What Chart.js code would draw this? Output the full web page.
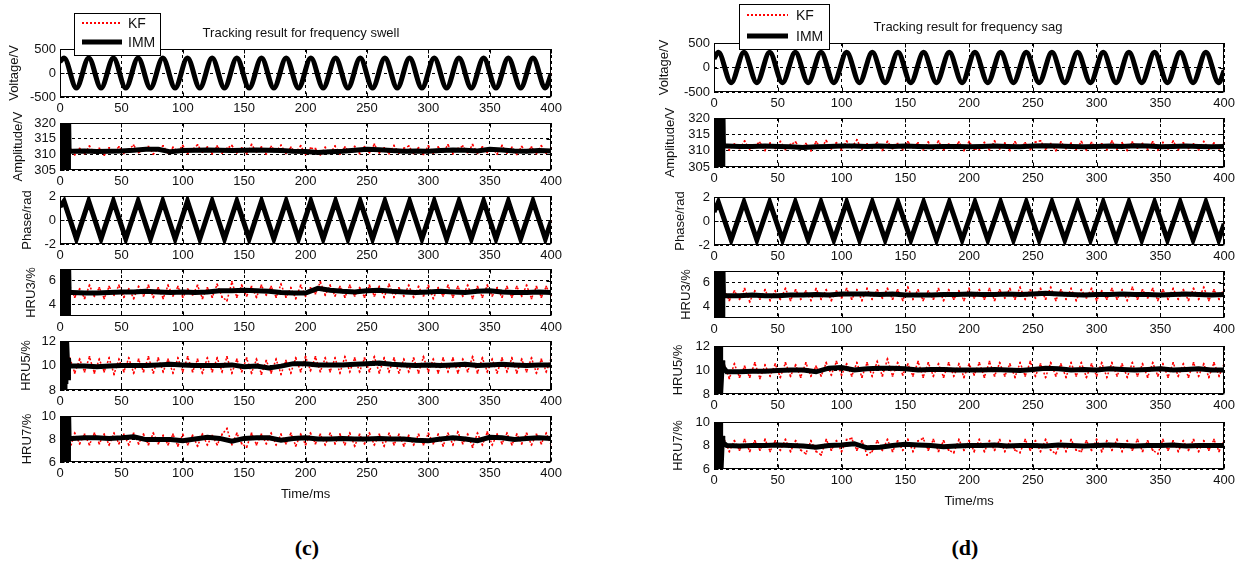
<!DOCTYPE html>
<html>
<head>
<meta charset="utf-8">
<title>Tracking results</title>
<script src="https://cdn.jsdelivr.net/npm/chart.js@4.4.0/dist/chart.umd.min.js"></script>
<style>
  body { margin: 0; background: #fff; }
  #fig { position: relative; width: 1245px; height: 568px; overflow: hidden; background: #fff; }
  #fig canvas { position: absolute; }
  .tag { position: absolute; width: 60px; text-align: center; font: bold 22px 'Liberation Serif', 'Times New Roman', serif; color: #000; }
</style>
</head>
<body>
<div id="fig">
  <div class="tag" style="left:277px; top:535px">(c)</div>
  <div class="tag" style="left:935px; top:535px">(d)</div>
</div>
<script>
// ---- time stamps (ms) ----
const kfTime = [];
for (let t = 8; t <= 400; t += 4) kfTime.push(t);
const immTime = [];
for (let t = 10; t <= 400; t += 10) immTime.push(t);
// start-up transient of the IMM estimate
const startTime = [0, 0.4, 0.8, 1.2, 1.6, 2.0, 2.4, 2.8, 3.2, 3.6, 4.0, 4.4, 4.8, 5.2, 6.6, 6.9, 7.4];
const xTicks = [0, 50, 100, 150, 200, 250, 300, 350, 400];

// ---- frequency swell ----
// turning points (peaks / troughs) of voltage and phase
const swellTurnT = [0, 3.3, 13.35, 23.4, 33.45, 43.5, 53.55, 63.6, 73.65, 83.7, 93.75,
  103.8, 113.85, 123.9, 133.95, 144.0, 154.05, 164.1, 174.15, 184.2, 194.25,
  204.3, 214.35, 224.4, 234.45, 244.5, 254.55, 264.6, 274.65, 284.7, 294.75,
  304.8, 314.85, 324.9, 334.95, 345.0, 355.05, 365.1, 375.15, 385.2, 395.25, 400];
const swellVolt = [235,
  311, -311, 311, -311, 311, -311, 311, -311, 311, -311,
  311, -311, 311, -311, 311, -311, 311, -311, 311, -311,
  311, -311, 311, -311, 311, -311, 311, -311, 311, -311,
  311, -311, 311, -311, 311, -311, 311, -311, 311, -311, -20];
const swellPhase = [1.1,
  1.57, -1.57, 1.57, -1.57, 1.57, -1.57, 1.57, -1.57, 1.57, -1.57,
  1.57, -1.57, 1.57, -1.57, 1.57, -1.57, 1.57, -1.57, 1.57, -1.57,
  1.57, -1.57, 1.57, -1.57, 1.57, -1.57, 1.57, -1.57, 1.57, -1.57,
  1.57, -1.57, 1.57, -1.57, 1.57, -1.57, 1.57, -1.57, 1.57, -1.57, -0.1];

const swellAmpStart = [325, 300, 325, 300, 325, 300, 325, 300, 325, 300, 325, 300, 325, 300, 300, 325, 311];
const swellAmpImm = [311.0, 311.1, 310.9, 311.0, 311.1, 311.3, 311.6, 311.6, 310.8, 311.2,
  311.3, 311.4, 311.3, 311.2, 311.3, 311.4, 311.3, 311.2, 311.0, 310.9,
  310.6, 310.8, 311.0, 311.3, 311.6, 311.5, 311.2, 311.0, 311.1, 311.0,
  311.2, 311.4, 311.3, 311.1, 311.6, 311.4, 311.1, 311.0, 311.2, 311.1];
const swellAmpKf = [312.3, 309.9, 311.8, 310.2, 312.6, 310.5, 311.9, 309.7, 312.1, 310.8,
  312.4, 310.3, 311.7, 312.9, 310.6, 311.4, 312.5, 310.1, 311.9, 312.7,
  310.4, 312.2, 310.9, 312.8, 310.3, 311.6, 313.0, 310.7, 312.3, 310.2,
  312.6, 310.4, 311.9, 312.8, 310.5, 312.1, 310.2, 313.1, 310.8, 312.3,
  310.1, 312.5, 311.0, 312.9, 310.3, 312.2, 310.6, 312.7, 310.0, 312.0,
  311.8, 309.9, 312.2, 310.4, 312.6, 310.1, 312.3, 310.7, 312.5, 310.3,
  312.4, 310.6, 313.2, 310.5, 312.1, 310.2, 312.8, 310.4, 311.9, 312.6,
  310.3, 312.1, 310.0, 312.7, 310.4, 312.3, 310.8, 313.0, 310.2, 311.8,
  312.6, 310.5, 313.1, 310.3, 312.4, 310.6, 312.0, 310.1, 312.8, 310.4,
  312.2, 310.0, 312.5, 310.6, 312.3, 310.2, 312.7, 310.4, 312.1];

const swellH3Start = [8, 2, 8, 2, 8, 2, 8, 2, 8, 2, 8, 2, 8, 2, 2, 8, 5.0];
const swellH3Imm = [5.0, 4.95, 4.95, 5.0, 5.05, 5.05, 5.1, 5.05, 5.0, 5.05,
  5.0, 5.05, 5.15, 5.15, 5.2, 5.15, 5.1, 5.0, 4.95, 4.95,
  5.35, 5.2, 5.1, 5.05, 5.15, 5.2, 5.1, 5.05, 5.0, 5.05,
  5.1, 5.05, 5.0, 5.1, 5.15, 5.05, 5.0, 5.0, 5.05, 5.0];
const swellH3Kf = [5.5, 4.6, 5.3, 4.5, 5.6, 4.7, 5.4, 4.5, 5.5, 4.8,
  5.6, 4.6, 5.3, 4.5, 5.5, 4.7, 5.6, 4.6, 5.4, 4.5,
  5.6, 4.7, 5.5, 4.6, 5.3, 4.8, 5.6, 4.5, 5.4, 4.6,
  5.7, 4.6, 4.3, 5.9, 4.6, 5.6, 4.7, 5.5, 4.6, 5.6,
  4.8, 5.5, 4.6, 5.7, 4.6, 5.4, 4.5, 5.6, 4.7, 5.4,
  4.9, 5.9, 4.8, 5.6, 4.7, 5.5, 4.6, 5.6, 4.7, 5.4,
  4.6, 5.6, 4.7, 5.5, 4.6, 5.7, 4.6, 5.4, 4.7, 5.6,
  4.6, 5.5, 4.7, 5.6, 4.5, 5.4, 4.7, 5.6, 4.6, 5.5,
  4.7, 5.6, 4.5, 5.5, 4.6, 5.6, 4.7, 5.4, 4.6, 5.5,
  4.6, 5.5, 4.7, 5.6, 4.5, 5.5, 4.6, 5.5, 4.7];

const swellH5Start = [9.2, 12.5, 7.5, 12.5, 7.5, 12.5, 7.5, 12.5, 7.5, 12.5, 7.5, 12.5, 8.5, 12.5, 9.0, 10.6, 10.0];
const swellH5Imm = [9.95, 9.95, 9.9, 9.95, 10.0, 10.0, 10.0, 10.05, 10.1, 10.05,
  10.0, 10.0, 10.0, 10.05, 9.9, 9.95, 9.8, 9.95, 10.15, 10.15,
  10.05, 10.05, 10.05, 10.1, 10.15, 10.2, 10.1, 10.05, 10.0, 10.05,
  10.0, 10.05, 10.1, 10.0, 10.05, 10.1, 10.05, 10.0, 10.05, 10.05];
const swellH5Kf = [10.6, 9.4, 10.5, 9.5, 10.7, 9.4, 10.5, 9.5, 10.6, 9.3,
  10.5, 9.5, 10.6, 9.4, 10.5, 9.5, 10.7, 9.4, 10.6, 9.5,
  10.5, 9.4, 10.6, 9.5, 10.7, 9.5, 10.5, 9.4, 10.6, 9.5,
  10.6, 9.5, 10.7, 9.4, 10.5, 9.5, 10.6, 9.4, 10.5, 9.3,
  10.4, 9.4, 10.5, 9.3, 10.4, 9.4, 10.6, 9.5, 10.7, 9.6,
  10.7, 9.5, 10.6, 9.5, 10.6, 9.4, 10.7, 9.5, 10.6, 9.5,
  10.6, 9.5, 10.7, 9.4, 10.6, 9.5, 10.6, 9.4, 10.5, 9.5,
  10.6, 9.4, 10.7, 9.5, 10.5, 9.4, 10.6, 9.5, 10.6, 9.4,
  10.5, 9.5, 10.7, 9.4, 10.6, 9.5, 10.5, 9.4, 10.6, 9.5,
  10.6, 9.4, 10.5, 9.5, 10.6, 9.4, 10.5, 9.5, 10.6];

const swellH7Start = [11, 5, 11, 5, 11, 5, 11, 5, 11, 5, 11, 5, 11, 5, 5, 11, 8.0];
const swellH7Imm = [8.05, 8.1, 8.1, 8.05, 8.1, 8.2, 7.95, 7.95, 7.95, 7.85,
  8.0, 8.15, 8.05, 7.8, 8.05, 8.1, 8.1, 7.9, 8.05, 8.1,
  8.0, 8.0, 8.05, 8.0, 8.0, 8.05, 8.0, 8.0, 7.9, 7.85,
  8.0, 8.1, 8.0, 7.85, 8.15, 8.1, 7.95, 8.05, 8.1, 8.05];
const swellH7Kf = [7.1, 8.5, 7.6, 8.4, 7.5, 8.5, 7.6, 8.4, 7.5, 8.5,
  7.6, 8.4, 7.5, 8.5, 7.6, 8.4, 7.5, 8.5, 7.6, 8.3,
  7.5, 8.4, 7.4, 8.4, 7.5, 8.3, 7.4, 8.4, 7.5, 8.3,
  7.5, 8.4, 8.9, 7.5, 8.5, 7.6, 7.3, 8.5, 7.5, 8.4,
  7.6, 8.5, 7.5, 8.4, 7.6, 8.5, 7.4, 8.4, 7.5, 8.5,
  7.6, 8.4, 7.5, 8.5, 7.6, 8.4, 7.5, 8.5, 7.4, 8.4,
  7.6, 8.5, 7.5, 8.4, 7.4, 8.5, 7.5, 8.4, 7.4, 8.3,
  7.5, 8.4, 7.5, 8.5, 7.6, 8.4, 7.4, 8.5, 7.5, 8.6,
  7.6, 8.4, 7.3, 8.5, 7.5, 8.6, 7.5, 8.4, 7.6, 8.5,
  7.5, 8.4, 7.6, 8.5, 7.5, 8.4, 7.6, 8.5, 7.5];

// ---- frequency sag ----
const sagTurnT = [0, 3.4, 13.46, 23.52, 33.58, 43.64, 53.7, 63.76, 73.82, 83.88, 93.94,
  104.0, 114.06, 124.12, 134.18, 144.24, 154.3, 164.36, 174.42, 184.48, 194.54,
  204.6, 214.66, 224.72, 234.78, 244.84, 254.9, 264.96, 275.02, 285.08, 295.14,
  305.2, 315.26, 325.32, 335.38, 345.44, 355.5, 365.56, 375.62, 385.68, 395.74, 400];
const sagVolt = [180,
  311, -311, 311, -311, 311, -311, 311, -311, 311, -311,
  311, -311, 311, -311, 311, -311, 311, -311, 311, -311,
  311, -311, 311, -311, 311, -311, 311, -311, 311, -311,
  311, -311, 311, -311, 311, -311, 311, -311, 311, -311, -60];
const sagPhase = [0.75,
  1.57, -1.57, 1.57, -1.57, 1.57, -1.57, 1.57, -1.57, 1.57, -1.57,
  1.57, -1.57, 1.57, -1.57, 1.57, -1.57, 1.57, -1.57, 1.57, -1.57,
  1.57, -1.57, 1.57, -1.57, 1.57, -1.57, 1.57, -1.57, 1.57, -1.57,
  1.57, -1.57, 1.57, -1.57, 1.57, -1.57, 1.57, -1.57, 1.57, -1.57, -0.24];

const sagAmpStart = [325, 300, 325, 300, 325, 300, 325, 300, 325, 300, 325, 300, 325, 300, 300, 325, 311.4];
const sagAmpImm = [311.4, 311.3, 311.3, 311.4, 311.3, 311.2, 311.0, 311.2, 311.3, 311.4,
  311.4, 311.3, 311.4, 311.3, 311.4, 311.3, 311.2, 311.3, 311.3, 311.2,
  311.3, 311.4, 311.3, 311.2, 311.4, 311.5, 311.4, 311.3, 311.2, 311.3,
  311.4, 311.3, 311.5, 311.4, 311.2, 311.3, 311.4, 311.3, 311.2, 311.3];
const sagAmpKf = [312.6, 310.2, 312.0, 310.6, 312.9, 310.4, 311.8, 312.5, 310.1, 312.3,
  310.7, 312.8, 310.3, 311.9, 312.6, 310.5, 312.2, 310.0, 312.7, 310.8,
  313.1, 310.6, 312.4, 310.2, 312.9, 311.0, 313.3, 310.4, 312.1, 310.7,
  312.5, 310.1, 312.8, 310.6, 312.2, 310.3, 312.7, 310.9, 312.4, 310.2,
  312.6, 310.5, 312.9, 310.3, 312.0, 310.7, 312.6, 310.1, 312.8, 310.5,
  310.4, 312.5, 310.2, 312.9, 310.6, 312.3, 310.1, 312.7, 310.8, 312.4,
  310.3, 312.6, 313.0, 310.5, 312.2, 310.0, 312.7, 310.6, 312.3, 310.4,
  312.8, 310.2, 312.5, 310.7, 312.1, 310.3, 312.9, 310.5, 312.4, 310.1,
  312.6, 310.8, 312.2, 310.4, 312.7, 310.2, 312.5, 310.6, 312.9, 310.3,
  312.4, 310.7, 312.1, 310.2, 312.8, 310.5, 312.3, 310.6, 312.5];

const sagH3Start = [8, 2, 8, 2, 8, 2, 8, 2, 8, 2, 8, 2, 8, 2, 2, 8, 4.95];
const sagH3Imm = [4.9, 4.9, 4.95, 4.9, 4.9, 4.95, 4.95, 5.0, 4.95, 5.05,
  5.05, 5.05, 5.0, 5.05, 4.95, 4.95, 4.95, 5.0, 5.0, 5.05,
  5.0, 5.0, 5.05, 5.0, 5.05, 5.1, 5.05, 5.0, 4.95, 5.0,
  5.0, 5.05, 5.0, 5.0, 4.95, 5.0, 5.05, 5.0, 4.95, 5.0];
const sagH3Kf = [5.4, 4.5, 5.3, 4.6, 5.5, 4.4, 5.3, 4.6, 5.4, 4.5,
  5.3, 4.6, 5.5, 4.5, 5.4, 4.6, 5.3, 4.5, 5.5, 4.6,
  5.4, 4.5, 5.3, 4.7, 5.5, 4.6, 5.4, 4.5, 5.5, 4.6,
  5.4, 4.7, 5.5, 4.6, 5.4, 4.5, 5.6, 4.6, 5.4, 4.5,
  5.3, 4.6, 5.5, 4.5, 5.4, 4.6, 5.3, 4.5, 5.5, 4.7,
  5.4, 4.6, 5.5, 4.5, 5.4, 4.7, 5.5, 4.6, 5.6, 4.6,
  5.4, 4.7, 5.5, 4.6, 5.6, 4.5, 5.4, 4.6, 5.5, 4.5,
  5.4, 4.7, 5.5, 4.5, 5.3, 4.6, 5.5, 4.6, 5.4, 4.5,
  5.6, 4.6, 5.4, 4.7, 5.5, 4.5, 5.4, 4.6, 5.5, 4.6,
  5.4, 4.5, 5.5, 4.6, 5.6, 4.5, 5.4, 4.6, 5.5];

const sagH5Start = [12.5, 7.5, 12.5, 7.5, 12.5, 7.5, 12.5, 7.5, 12.5, 7.5, 12.5, 7.5, 12.5, 8.0, 10.8, 10.5, 10.2];
const sagH5Imm = [9.85, 9.85, 9.9, 9.9, 9.95, 10.0, 10.0, 9.85, 10.15, 10.2,
  10.0, 10.1, 10.15, 10.15, 10.1, 10.0, 10.05, 10.05, 10.0, 10.0,
  10.0, 10.05, 10.0, 9.95, 10.05, 10.15, 10.1, 10.0, 10.05, 10.0,
  10.1, 10.05, 10.0, 10.05, 10.1, 10.0, 10.05, 10.1, 10.0, 10.0];
const sagH5Kf = [10.4, 9.3, 10.5, 9.4, 10.3, 9.4, 10.6, 9.3, 10.4, 9.5,
  10.5, 9.4, 10.6, 9.5, 10.4, 9.4, 10.6, 9.5, 10.3, 9.5,
  10.6, 9.6, 10.7, 9.6, 10.5, 9.5, 10.6, 9.4, 10.6, 9.5,
  10.7, 9.5, 10.9, 9.5, 10.6, 9.6, 10.5, 9.5, 10.7, 9.4,
  10.6, 9.5, 10.5, 9.4, 10.6, 9.5, 10.5, 9.4, 10.5, 9.6,
  10.6, 9.4, 10.7, 9.5, 10.6, 9.5, 10.5, 9.4, 10.6, 9.5,
  10.7, 9.5, 10.5, 9.4, 10.6, 9.5, 10.5, 9.4, 10.6, 9.5,
  10.6, 9.4, 10.5, 9.5, 10.6, 9.4, 10.6, 9.5, 10.5, 9.4,
  10.6, 9.5, 10.5, 9.4, 10.6, 9.5, 10.5, 9.4, 10.6, 9.5,
  10.5, 9.4, 10.6, 9.5, 10.5, 9.4, 10.6, 9.5, 10.5];

const sagH7Start = [11, 5, 11, 5, 11, 5, 11, 5, 11, 5, 11, 5, 11, 5, 8.8, 8.5, 8.2];
const sagH7Imm = [8.0, 7.95, 8.0, 8.0, 8.05, 8.0, 7.95, 7.85, 8.0, 8.05,
  8.15, 7.8, 7.85, 8.0, 8.1, 8.05, 8.0, 7.9, 7.95, 8.0,
  8.0, 8.05, 7.95, 8.0, 8.0, 7.95, 8.05, 8.0, 7.95, 8.0,
  8.05, 8.0, 7.95, 8.0, 8.0, 8.05, 7.95, 8.0, 8.0, 8.0];
const sagH7Kf = [8.5, 7.5, 8.4, 7.6, 8.5, 7.5, 8.4, 7.6, 8.5, 7.5,
  8.4, 7.6, 8.5, 7.5, 8.4, 7.6, 7.3, 8.4, 7.5, 7.2,
  8.5, 7.6, 8.4, 7.5, 8.5, 8.6, 7.6, 8.4, 7.2, 7.5,
  8.4, 7.6, 8.5, 7.5, 8.4, 7.6, 8.5, 7.5, 8.4, 8.6,
  7.6, 8.5, 7.5, 8.4, 7.6, 7.4, 8.5, 7.6, 8.4, 7.5,
  8.5, 7.5, 8.4, 7.6, 8.5, 7.5, 8.4, 7.6, 7.4, 8.5,
  7.6, 8.4, 7.5, 8.5, 7.6, 7.3, 8.4, 7.5, 8.5, 7.6,
  7.5, 8.4, 7.6, 8.5, 7.5, 8.4, 7.6, 8.5, 7.5, 8.4,
  7.6, 8.5, 7.5, 8.4, 7.6, 7.3, 8.5, 7.6, 8.4, 7.5,
  8.4, 7.6, 8.5, 7.5, 8.4, 7.6, 8.5, 7.5, 8.4];

// ---- axes of each row ----
const rows = [
  { name: 'Voltage/V', min: -500, max: 500, ticks: [-500, 0, 500] },
  { name: 'Amplitude/V', min: 305, max: 320, ticks: [305, 310, 315, 320] },
  { name: 'Phase/rad', min: -2, max: 2, ticks: [-2, 0, 2] },
  { name: 'HRU3/%', min: 3, max: 7, ticks: [4, 6] },
  { name: 'HRU5/%', min: 8, max: 12, ticks: [8, 10, 12] },
  { name: 'HRU7/%', min: 6, max: 10, ticks: [6, 8, 10] }
];

function xy(xs, ys) {
  return ys.map((y, i) => ({ x: xs[i], y: y }));
}
function estimate(start, imm) {
  return xy(startTime.concat(immTime), start.concat(imm));
}

const panels = [
  {
    left: 60, right: 552,
    tops: [49, 123, 196, 269, 341, 416],
    bottoms: [97, 170, 244, 316, 390, 462],
    labelX: [15, 19, 28, 32, 27, 28],
    title: 'Tracking result for frequency swell', titleX: 301, titleY: 33,
    legend: { x: 74, y: 13, w: 86, h: 42, line0: 82, line1: 122, textX: 128, kfY: 23, immY: 42 },
    series: [
      { imm: xy(swellTurnT, swellVolt), kf: xy(swellTurnT, swellVolt), smooth: true },
      { imm: estimate(swellAmpStart, swellAmpImm), kf: xy(kfTime, swellAmpKf) },
      { imm: xy(swellTurnT, swellPhase), kf: xy(swellTurnT, swellPhase) },
      { imm: estimate(swellH3Start, swellH3Imm), kf: xy(kfTime, swellH3Kf) },
      { imm: estimate(swellH5Start, swellH5Imm), kf: xy(kfTime, swellH5Kf) },
      { imm: estimate(swellH7Start, swellH7Imm), kf: xy(kfTime, swellH7Kf) }
    ]
  },
  {
    left: 714, right: 1225,
    tops: [43, 118, 197, 271, 346, 422],
    bottoms: [92, 167, 245, 318, 394, 469],
    labelX: [665, 671, 681, 687, 679, 679],
    title: 'Tracking result for frequency sag', titleX: 968, titleY: 27,
    legend: { x: 739, y: 4, w: 90, h: 45, line0: 747, line1: 788, textX: 796, kfY: 15, immY: 36 },
    series: [
      { imm: xy(sagTurnT, sagVolt), kf: xy(sagTurnT, sagVolt), smooth: true },
      { imm: estimate(sagAmpStart, sagAmpImm), kf: xy(kfTime, sagAmpKf) },
      { imm: xy(sagTurnT, sagPhase), kf: xy(sagTurnT, sagPhase) },
      { imm: estimate(sagH3Start, sagH3Imm), kf: xy(kfTime, sagH3Kf) },
      { imm: estimate(sagH5Start, sagH5Imm), kf: xy(kfTime, sagH5Kf) },
      { imm: estimate(sagH7Start, sagH7Imm), kf: xy(kfTime, sagH7Kf) }
    ]
  }
];

const FONT = "'Liberation Sans', Arial, sans-serif";

// closed box with small inward ticks, drawn over the lines
const boxPlugin = {
  id: 'axesBox',
  afterDatasetsDraw(chart) {
    const { ctx, chartArea: a, scales } = chart;
    const l = Math.round(a.left) + 0.5, r = Math.round(a.right) - 0.5;
    const t = Math.round(a.top) + 0.5, b = Math.round(a.bottom) - 0.5;
    ctx.save();
    ctx.strokeStyle = '#000';
    ctx.lineWidth = 1;
    ctx.setLineDash([]);
    ctx.strokeRect(l, t, r - l, b - t);
    ctx.beginPath();
    scales.x.ticks.forEach(tk => {
      const px = Math.round(scales.x.getPixelForValue(tk.value)) + 0.5;
      ctx.moveTo(px, b); ctx.lineTo(px, b - 4);
      ctx.moveTo(px, t); ctx.lineTo(px, t + 4);
    });
    scales.y.ticks.forEach(tk => {
      const py = Math.round(scales.y.getPixelForValue(tk.value)) + 0.5;
      ctx.moveTo(l, py); ctx.lineTo(l + 4, py);
      ctx.moveTo(r, py); ctx.lineTo(r - 4, py);
    });
    ctx.stroke();
    ctx.restore();
  }
};

// panel title and legend box, drawn on the top row only
const decorPlugin = {
  id: 'panelDecor',
  afterDraw(chart, args, opts) {
    if (!opts || !opts.title) return;
    const ctx = chart.ctx;
    const ox = opts.offsetX, oy = opts.offsetY;
    const g = opts.legend;
    ctx.save();
    ctx.font = '13px ' + FONT;
    ctx.fillStyle = '#111';
    ctx.textAlign = 'center';
    ctx.textBaseline = 'middle';
    ctx.fillText(opts.title, opts.titleX - ox, opts.titleY - oy);

    ctx.fillStyle = '#fff';
    ctx.fillRect(g.x - ox, g.y - oy, g.w, g.h);
    ctx.strokeStyle = '#000';
    ctx.lineWidth = 1;
    ctx.strokeRect(g.x - ox + 0.5, g.y - oy + 0.5, g.w, g.h);

    ctx.strokeStyle = '#ff0000';
    ctx.lineWidth = 2;
    ctx.setLineDash([2, 2]);
    ctx.beginPath();
    ctx.moveTo(g.line0 - ox, g.kfY - oy);
    ctx.lineTo(g.line1 - ox, g.kfY - oy);
    ctx.stroke();

    ctx.strokeStyle = '#000';
    ctx.lineWidth = 5;
    ctx.setLineDash([]);
    ctx.beginPath();
    ctx.moveTo(g.line0 - ox, g.immY - oy);
    ctx.lineTo(g.line1 - ox, g.immY - oy);
    ctx.stroke();

    ctx.font = '14px ' + FONT;
    ctx.fillStyle = '#111';
    ctx.textAlign = 'left';
    ctx.fillText('KF', g.textX - ox, g.kfY - oy + 1);
    ctx.fillText('IMM', g.textX - ox, g.immY - oy + 1);
    ctx.restore();
  }
};

const fig = document.getElementById('fig');

panels.forEach(panel => {
  rows.forEach((row, i) => {
    const s = panel.series[i];
    const top = panel.tops[i], bottom = panel.bottoms[i];
    const scaleLeft = panel.labelX[i] - 8;
    const padTop = i === 0 ? top : 14;
    const padRight = 14, padBottom = 6;
    const xHeight = i === 5 ? 40 : 20;

    const canvas = document.createElement('canvas');
    canvas.width = panel.right - scaleLeft + padRight;
    canvas.height = padTop + (bottom - top) + xHeight + padBottom;
    canvas.style.left = scaleLeft + 'px';
    canvas.style.top = (top - padTop) + 'px';
    fig.appendChild(canvas);

    const decor = i === 0 ? {
      title: panel.title, titleX: panel.titleX, titleY: panel.titleY,
      legend: panel.legend, offsetX: scaleLeft, offsetY: top - padTop
    } : {};

    new Chart(canvas, {
      type: 'line',
      data: {
        datasets: [
          {
            label: 'IMM',
            data: s.imm,
            borderColor: '#000',
            borderWidth: 5,
            pointRadius: 0,
            cubicInterpolationMode: s.smooth ? 'monotone' : 'default',
            tension: 0,
            clip: 0
          },
          {
            label: 'KF',
            data: s.kf,
            borderColor: '#ff0000',
            borderWidth: 1.5,
            borderDash: [2, 2],
            pointRadius: 1.2,
            pointStyle: 'rect',
            pointBorderWidth: 0,
            pointBackgroundColor: '#ff0000',
            cubicInterpolationMode: s.smooth ? 'monotone' : 'default',
            tension: 0,
            clip: 0
          }
        ]
      },
      options: {
        responsive: false,
        animation: false,
        devicePixelRatio: 1,
        events: [],
        layout: { padding: { top: padTop, right: padRight, bottom: padBottom, left: 0 } },
        plugins: {
          legend: { display: false },
          tooltip: { enabled: false },
          panelDecor: decor
        },
        scales: {
          x: {
            type: 'linear',
            min: 0,
            max: 400,
            afterBuildTicks: scale => { scale.ticks = xTicks.map(v => ({ value: v })); },
            afterFit: scale => { scale.height = xHeight; },
            grid: { color: '#000', lineWidth: 1, drawTicks: false },
            border: { display: false, dash: [3, 3] },
            ticks: { color: '#111', padding: 4, maxRotation: 0, autoSkip: false, font: { family: FONT, size: 13 } },
            title: {
              display: i === 5,
              text: 'Time/ms',
              color: '#111',
              padding: { top: 2, bottom: 0 },
              font: { family: FONT, size: 13 }
            }
          },
          y: {
            min: row.min,
            max: row.max,
            afterBuildTicks: scale => { scale.ticks = row.ticks.map(v => ({ value: v })); },
            afterFit: scale => { scale.width = panel.left - scaleLeft; },
            grid: { color: '#000', lineWidth: 1, drawTicks: false },
            border: { display: false, dash: [3, 3] },
            ticks: { color: '#111', padding: 4, autoSkip: false, font: { family: FONT, size: 13 } },
            title: {
              display: true,
              text: row.name,
              color: '#111',
              padding: 0,
              font: { family: FONT, size: 13 }
            }
          }
        }
      },
      plugins: [boxPlugin, decorPlugin]
    });
  });
});
</script>
</body>
</html>
